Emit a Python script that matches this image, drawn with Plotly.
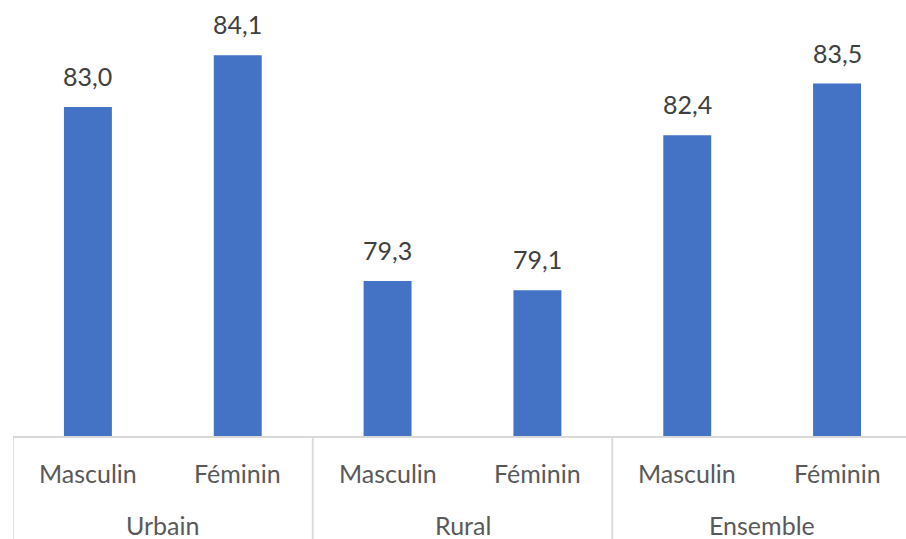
import plotly.graph_objects as go

# Groups, sexes and values
zones = ["Urbain", "Urbain", "Rural", "Rural", "Ensemble", "Ensemble"]
sexes = ["Masculin", "Féminin", "Masculin", "Féminin", "Masculin", "Féminin"]
values = [83.0, 84.1, 79.3, 79.1, 82.4, 83.5]
labels = ["83,0", "84,1", "79,3", "79,1", "82,4", "83,5"]

FONT = "Lato"
BAR = "#4472C4"
AXIS_GREY = "#D9D9D9"
TICK_GREY = "#595959"

pos = list(range(len(values)))

fig = go.Figure()
fig.add_trace(go.Bar(
    x=pos,
    y=values,
    marker=dict(color=BAR, line=dict(width=0)),
    hoverinfo="skip",
))

# Value labels above each bar
for i, (v, t) in enumerate(zip(values, labels)):
    fig.add_annotation(
        x=i, y=v, xref="x", yref="y", text=t, showarrow=False,
        yanchor="bottom", yshift=14,
        font=dict(family=FONT, size=25, color="#404040"),
    )

# First level of the category axis: sex
for i, s in enumerate(sexes):
    fig.add_annotation(
        x=i, y=0, xref="x", yref="paper", text=s, showarrow=False,
        yanchor="middle", yshift=-37,
        font=dict(family=FONT, size=25, color=TICK_GREY),
    )

# Second level: zone, centred on its bars, with dividers between zones
groups = []
for i, z in enumerate(zones):
    if groups and groups[-1][0] == z:
        groups[-1][2] = i
    else:
        groups.append([z, i, i])

for z, first, last in groups:
    fig.add_annotation(
        x=(first + last) / 2, y=0, xref="x", yref="paper", text=z,
        showarrow=False, yanchor="middle", yshift=-89,
        font=dict(family=FONT, size=25, color=TICK_GREY),
    )
    for edge in (first - 0.5, last + 0.5):
        fig.add_shape(
            type="line", xref="x", yref="paper",
            x0=edge, x1=edge, y0=0, y1=-0.26,
            line=dict(color=AXIS_GREY, width=1.5),
        )

fig.update_layout(
    width=906, height=539,
    margin=dict(l=13, r=0, t=13, b=103),
    paper_bgcolor="white", plot_bgcolor="white",
    bargap=0.68,
    showlegend=False,
    font=dict(family=FONT, size=25, color=TICK_GREY),
)
fig.update_xaxes(
    range=[-0.5, 5.46],
    showline=True, linecolor=AXIS_GREY, linewidth=1.5,
    showticklabels=False, ticks="", showgrid=False, zeroline=False,
)
fig.update_yaxes(
    range=[76, 85], visible=False, showgrid=False, zeroline=False,
)

fig.write_html("out.html")
